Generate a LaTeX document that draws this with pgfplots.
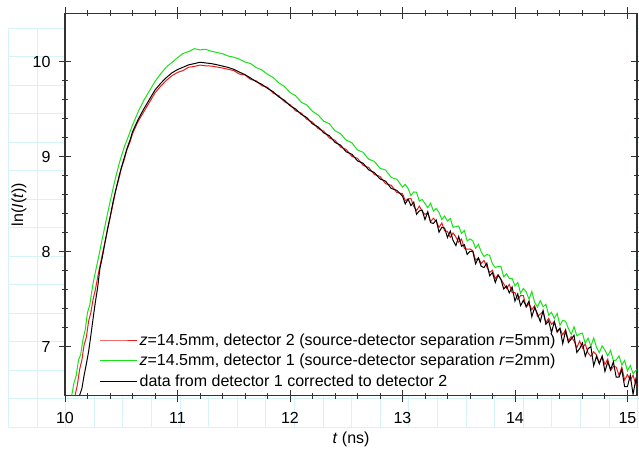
\documentclass[border=0pt]{standalone}
\usepackage{pgfplots}
\pgfplotsset{compat=1.18}
\usepackage{fontspec}
\setmainfont{Liberation Sans}
\definecolor{cred}{RGB}{232,28,28}
\definecolor{cgreen}{RGB}{24,226,24}
\definecolor{gridc}{RGB}{214,244,246}
\definecolor{axc}{RGB}{50,50,50}
\begin{document}
\begin{tikzpicture}
\path[use as bounding box] (0,0) rectangle (639bp,450bp);
\begin{scope}[x=1bp,y=1bp,gridc,line width=0.6bp]
\foreach \k in {0,...,22} \draw ({8.3+\k*28.6},22.7) -- ({8.3+\k*28.6},421.7);
\foreach \k in {0,...,14} \draw (8.3,{421.7-\k*28.5}) -- (639,{421.7-\k*28.5});
\end{scope}
\begin{axis}[
  at={(65bp,54.3bp)}, anchor=south west,
  scale only axis, width=572bp, height=382.4bp,
  xmin=10, xmax=15.085, ymin=6.485, ymax=10.507,
  axis background/.style={fill=white},
  axis line style={draw=axc, line width=1.2bp},
  every tick/.style={draw=axc, line width=0.9bp},
  tick align=center,
  major tick length=12bp, minor tick length=6bp,
  xtick={10,11,12,13,14,15}, minor x tick num=4,
  ytick={7,8,9,10}, minor y tick num=4,
  /pgf/number format/assume math mode=true,
  tick label style={font=\fontsize{16bp}{19bp}\selectfont},
  xticklabel style={yshift=-7bp},
  yticklabel style={xshift=-5bp},
  xlabel={\textit{t} (ns)}, ylabel={ln(\textit{I}(\textit{t}))},
  label style={font=\fontsize{16bp}{19bp}\selectfont},
  xlabel style={at={(axis description cs:0.5,-0.113)}, anchor=center},
  ylabel style={at={(axis description cs:-0.0804,0.5)}, anchor=center},
  legend style={at={(0.055,0.01)}, anchor=south west, draw=none, fill=none,
    font=\fontsize{16bp}{19bp}\selectfont, row sep=3.5bp},
  legend cell align=left,
  legend image code/.code={\draw[mark=none,#1] plot coordinates {(0bp,0bp) (18.5bp,0bp) (37bp,0bp)};},
]
\addplot[color=cred, line width=1bp] coordinates {
(10.09,6.49)(10.11,6.60)(10.13,6.76)(10.15,6.86)(10.17,7.02)(10.19,7.10)(10.21,7.27)(10.23,7.36)(10.25,7.50)(10.27,7.60)
(10.30,7.79)(10.33,7.96)(10.35,8.07)(10.38,8.24)(10.40,8.35)(10.43,8.52)(10.45,8.64)(10.48,8.77)(10.50,8.87)(10.53,8.98)
(10.55,9.07)(10.58,9.16)(10.60,9.24)(10.65,9.37)(10.70,9.47)(10.75,9.57)(10.80,9.67)(10.85,9.74)(10.90,9.80)(10.95,9.85)
(11.00,9.885)(11.05,9.905)(11.10,9.940)(11.15,9.948)(11.20,9.962)(11.25,9.955)(11.30,9.952)(11.35,9.942)(11.40,9.931)(11.45,9.918)
(11.50,9.905)(11.55,9.868)(11.60,9.858)(11.65,9.812)(11.70,9.796)(11.75,9.745)(11.80,9.728)(11.85,9.668)(11.90,9.641)(11.95,9.578)
(12.00,9.546)(12.05,9.482)(12.10,9.458)(12.15,9.392)(12.20,9.362)(12.25,9.295)(12.30,9.268)(12.35,9.196)(12.40,9.172)(12.45,9.100)
(12.50,9.075)(12.55,9.002)(12.60,8.982)(12.65,8.908)(12.70,8.885)(12.75,8.812)(12.80,8.792)(12.85,8.715)(12.90,8.698)(12.95,8.622)
(13.000,8.610)(13.025,8.537)(13.050,8.553)(13.075,8.560)(13.100,8.476)(13.125,8.433)(13.150,8.479)(13.175,8.426)(13.200,8.392)(13.225,8.409)
(13.250,8.315)(13.275,8.352)(13.300,8.318)(13.325,8.255)(13.350,8.301)(13.375,8.218)(13.400,8.214)(13.425,8.151)(13.450,8.197)(13.475,8.154)
(13.500,8.100)(13.525,8.132)(13.550,8.034)(13.575,8.026)(13.600,8.028)(13.625,8.010)(13.650,7.912)(13.675,7.934)(13.700,7.876)(13.725,7.908)
(13.750,7.840)(13.775,7.782)(13.800,7.804)(13.825,7.716)(13.850,7.758)(13.875,7.710)(13.900,7.662)(13.925,7.614)(13.950,7.656)(13.975,7.568)
(14.000,7.570)(14.025,7.496)(14.050,7.538)(14.075,7.538)(14.100,7.414)(14.125,7.453)(14.150,7.390)(14.175,7.432)(14.200,7.318)(14.225,7.344)
(14.250,7.370)(14.275,7.256)(14.300,7.298)(14.325,7.235)(14.350,7.264)(14.375,7.150)(14.400,7.189)(14.425,7.126)(14.450,7.178)(14.475,7.064)
(14.500,7.106)(14.525,7.060)(14.550,6.990)(14.575,7.060)(14.600,6.987)(14.625,7.030)(14.650,6.934)(14.675,6.900)(14.700,6.946)(14.725,6.913)
(14.750,6.830)(14.775,6.900)(14.800,6.814)(14.825,6.870)(14.850,6.750)(14.875,6.793)(14.900,6.786)(14.925,6.700)(14.950,6.785)(14.975,6.650)
(15.000,6.706)(15.025,6.647)(15.050,6.700)(15.075,6.600)(15.100,6.630)
};
\addlegendentry{\textit{z}=14.5mm, detector 2 (source-detector separation \textit{r}=5mm)}
\addplot[color=cgreen, line width=1bp] coordinates {
(10.06,6.49)(10.08,6.62)(10.10,6.70)(10.12,6.86)(10.14,6.92)(10.16,7.08)(10.18,7.18)(10.20,7.36)(10.22,7.44)(10.25,7.67)
(10.28,7.84)(10.30,7.95)(10.33,8.13)(10.35,8.24)(10.38,8.41)(10.40,8.52)(10.43,8.68)(10.45,8.78)(10.48,8.92)(10.50,9.00)
(10.53,9.11)(10.55,9.17)(10.60,9.33)(10.65,9.47)(10.70,9.59)(10.75,9.69)(10.80,9.79)(10.85,9.87)(10.90,9.94)(10.95,9.99)
(11.00,10.040)(11.05,10.085)(11.10,10.105)(11.15,10.135)(11.20,10.122)(11.25,10.128)(11.30,10.108)(11.35,10.095)(11.40,10.082)(11.45,10.058)
(11.50,10.045)(11.55,10.025)(11.60,9.995)(11.65,9.978)(11.70,9.936)(11.75,9.912)(11.80,9.866)(11.85,9.832)(11.90,9.776)(11.95,9.738)
(12.00,9.674)(12.05,9.640)(12.10,9.572)(12.15,9.542)(12.20,9.476)(12.25,9.438)(12.30,9.372)(12.35,9.345)(12.40,9.272)(12.45,9.240)
(12.50,9.172)(12.55,9.146)(12.60,9.070)(12.65,9.045)(12.70,8.972)(12.75,8.950)(12.80,8.878)(12.85,8.858)(12.90,8.780)(12.95,8.762)
(13.000,8.680)(13.025,8.707)(13.050,8.664)(13.075,8.591)(13.100,8.628)(13.125,8.625)(13.150,8.532)(13.175,8.549)(13.200,8.506)(13.225,8.463)
(13.250,8.510)(13.275,8.427)(13.300,8.454)(13.325,8.411)(13.350,8.338)(13.375,8.375)(13.400,8.322)(13.425,8.349)(13.450,8.256)(13.475,8.263)
(13.500,8.270)(13.525,8.191)(13.550,8.222)(13.575,8.113)(13.600,8.134)(13.625,8.115)(13.650,8.036)(13.675,8.077)(13.700,7.998)(13.725,7.949)
(13.750,7.970)(13.775,7.961)(13.800,7.872)(13.825,7.833)(13.850,7.844)(13.875,7.845)(13.900,7.736)(13.925,7.767)(13.950,7.718)(13.975,7.719)
(14.000,7.640)(14.025,7.676)(14.050,7.562)(14.075,7.614)(14.100,7.577)(14.125,7.500)(14.150,7.581)(14.175,7.466)(14.200,7.418)(14.225,7.484)
(14.250,7.420)(14.275,7.446)(14.300,7.332)(14.325,7.361)(14.350,7.298)(14.375,7.350)(14.400,7.226)(14.425,7.278)(14.450,7.268)(14.475,7.191)
(14.500,7.130)(14.525,7.211)(14.550,7.116)(14.575,7.135)(14.600,7.143)(14.625,7.034)(14.650,7.091)(14.675,7.006)(14.700,7.092)(14.725,6.994)
(14.750,6.938)(14.775,7.009)(14.800,6.963)(14.825,6.905)(14.850,6.962)(14.875,6.852)(14.900,6.860)(14.925,6.904)(14.950,6.809)(14.975,6.856)
(15.000,6.747)(15.025,6.803)(15.050,6.718)(15.075,6.752)(15.100,6.770)
};
\addlegendentry{\textit{z}=14.5mm, detector 1 (source-detector separation \textit{r}=2mm)}
\addplot[color=black, line width=1bp] coordinates {
(10.13,6.49)(10.15,6.56)(10.17,6.70)(10.19,6.82)(10.21,6.95)(10.23,7.12)(10.25,7.30)(10.27,7.47)(10.29,7.62)(10.31,7.82)
(10.33,7.93)(10.35,8.06)(10.38,8.25)(10.40,8.36)(10.43,8.54)(10.45,8.64)(10.48,8.79)(10.50,8.88)(10.53,9.00)(10.55,9.08)
(10.58,9.18)(10.60,9.26)(10.65,9.39)(10.70,9.50)(10.75,9.60)(10.80,9.70)(10.85,9.77)(10.90,9.83)(10.95,9.88)(11.00,9.915)
(11.05,9.940)(11.10,9.965)(11.15,9.978)(11.20,9.992)(11.25,9.985)(11.30,9.978)(11.35,9.966)(11.40,9.952)(11.45,9.938)(11.50,9.918)
(11.55,9.889)(11.60,9.862)(11.65,9.826)(11.70,9.788)(11.75,9.760)(11.80,9.718)(11.85,9.682)(11.90,9.628)(11.95,9.592)(12.00,9.536)
(12.05,9.500)(12.10,9.444)(12.15,9.410)(12.20,9.344)(12.25,9.312)(12.30,9.250)(12.35,9.220)(12.40,9.150)(12.45,9.120)(12.50,9.050)
(12.55,9.025)(12.60,8.955)(12.65,8.930)(12.70,8.860)(12.75,8.832)(12.80,8.765)(12.85,8.742)(12.90,8.665)(12.95,8.645)
(13.000,8.585)(13.025,8.502)(13.050,8.553)(13.075,8.485)(13.100,8.521)(13.125,8.393)(13.150,8.429)(13.175,8.436)(13.200,8.337)(13.225,8.419)
(13.250,8.305)(13.275,8.297)(13.300,8.333)(13.325,8.205)(13.350,8.256)(13.375,8.248)(13.400,8.149)(13.425,8.216)(13.450,8.117)(13.475,8.064)
(13.500,8.160)(13.525,8.057)(13.550,8.074)(13.575,7.971)(13.600,8.003)(13.625,8.005)(13.650,7.872)(13.675,7.934)(13.700,7.846)(13.725,7.833)
(13.750,7.880)(13.775,7.747)(13.800,7.779)(13.825,7.676)(13.850,7.753)(13.875,7.710)(13.900,7.607)(13.925,7.639)(13.950,7.566)(13.975,7.628)
(14.000,7.480)(14.025,7.556)(14.050,7.432)(14.075,7.488)(14.100,7.424)(14.125,7.480)(14.150,7.316)(14.175,7.412)(14.200,7.348)(14.225,7.264)
(14.250,7.380)(14.275,7.236)(14.300,7.272)(14.325,7.148)(14.350,7.264)(14.375,7.160)(14.400,7.196)(14.425,7.032)(14.450,7.168)(14.475,7.044)
(14.500,7.080)(14.525,7.120)(14.550,6.940)(14.575,6.980)(14.600,7.040)(14.625,6.900)(14.650,6.980)(14.675,7.000)(14.700,6.800)(14.725,6.900)
(14.750,6.820)(14.775,6.900)(14.800,6.740)(14.825,6.840)(14.850,6.760)(14.875,6.840)(14.900,6.680)(14.925,6.680)(14.950,6.760)(14.975,6.580)
(15.000,6.580)(15.025,6.700)(15.050,6.500)(15.075,6.660)(15.100,6.560)
};
\addlegendentry{data from detector 1 corrected to detector 2}
\end{axis}
\end{tikzpicture}
\end{document}
